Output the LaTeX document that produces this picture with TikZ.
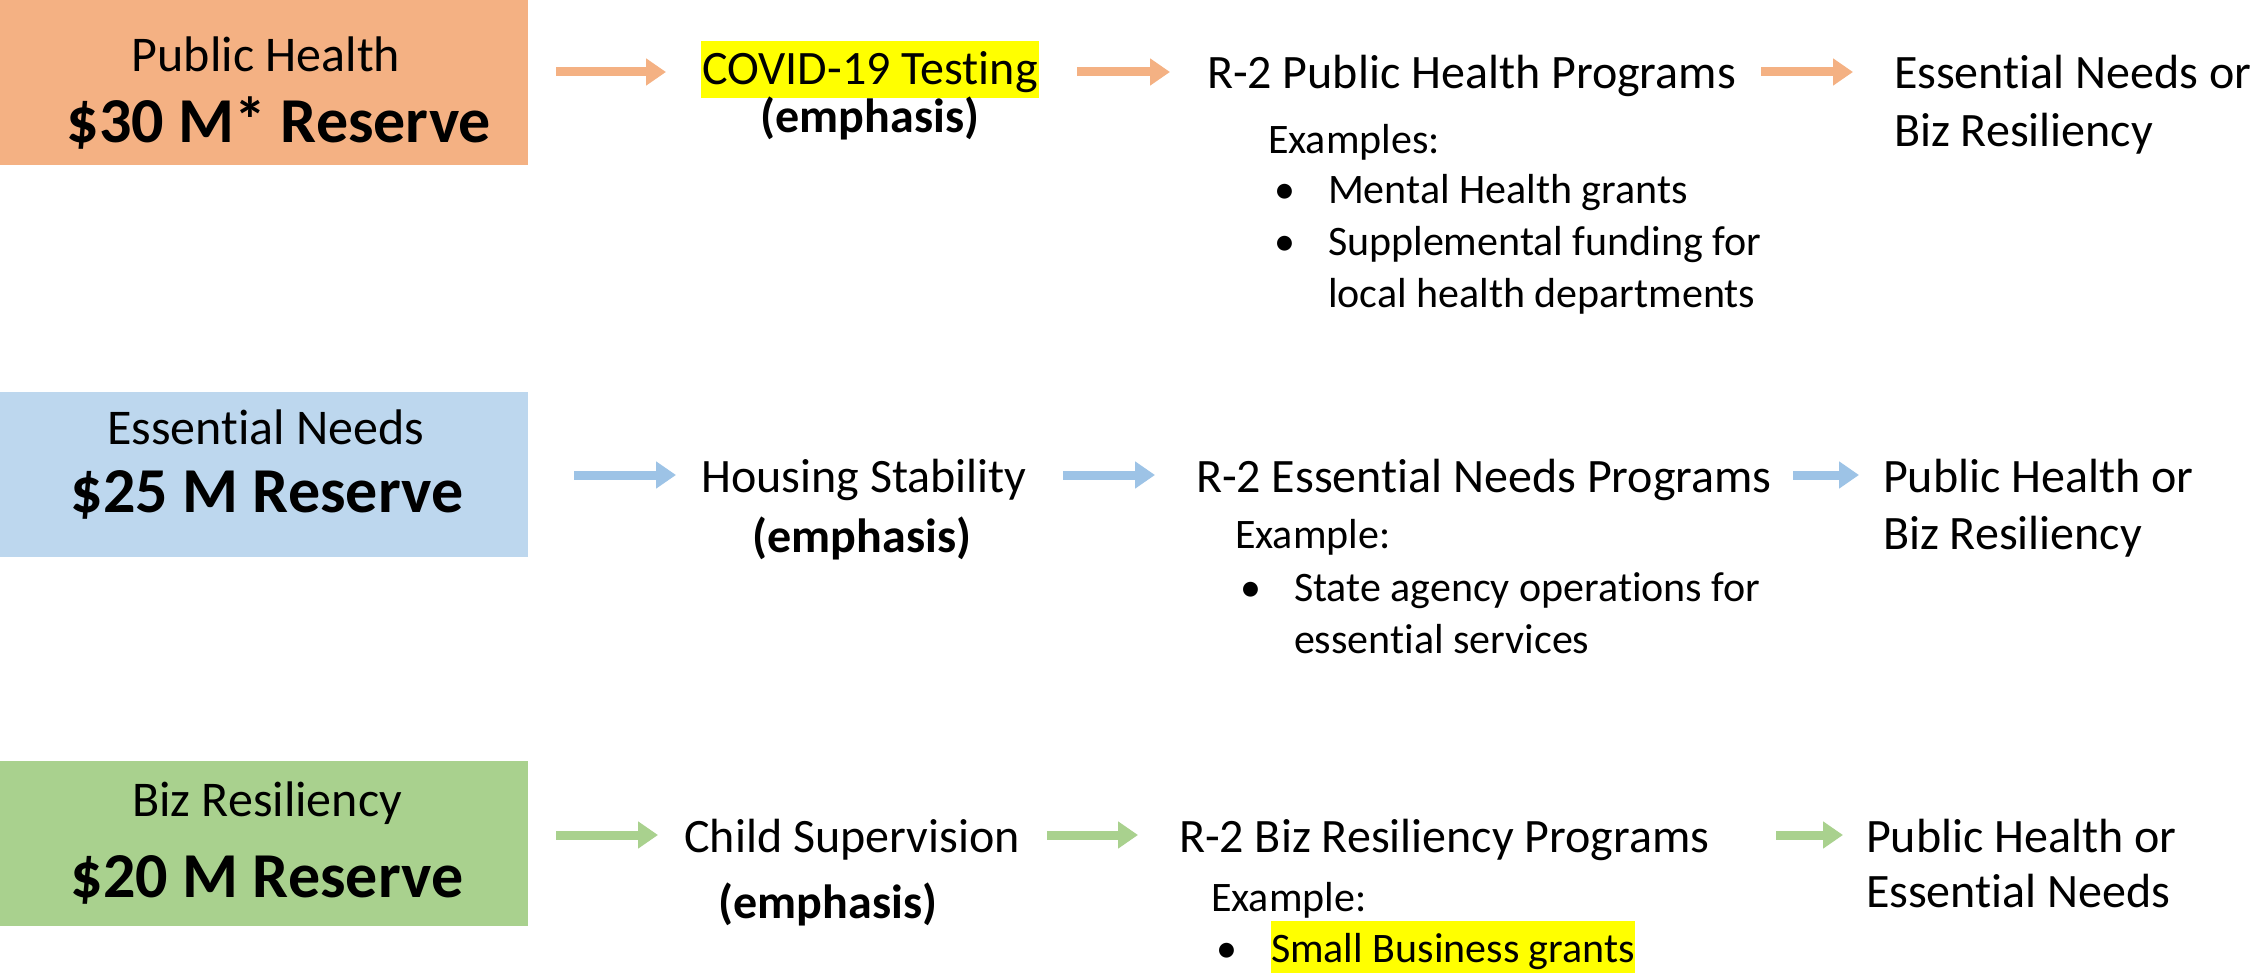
\documentclass[tikz,border=0pt]{standalone}
\usepackage{fontspec}
\setmainfont{Carlito}[Ligatures={NoCommon}]
\usetikzlibrary{arrows.meta}
\definecolor{boxO}{HTML}{F4B183}
\definecolor{boxB}{HTML}{BDD7EE}
\definecolor{boxG}{HTML}{A9D18E}
\definecolor{arrB}{HTML}{9DC3E6}
\definecolor{hl}{HTML}{FFFF00}
\begin{document}
\begin{tikzpicture}[x=1pt,y=-1pt,
  every node/.style={inner sep=0pt, outer sep=0pt},
  panel/.style={anchor=north west, minimum width=528pt, minimum height=165pt},
  ttl/.style={anchor=base, font=\fontsize{50}{60}\selectfont},
  amt/.style={anchor=base, font=\fontsize{64}{76}\selectfont\bfseries},
  main/.style={anchor=base west, font=\fontsize{48}{58}\selectfont},
  mainc/.style={anchor=base, font=\fontsize{48}{58}\selectfont},
  emph/.style={anchor=base, font=\fontsize{48}{58}\selectfont\bfseries},
  sub/.style={anchor=base west, font=\fontsize{42}{51}\selectfont},
  hlbox/.style={fill=hl},
  flow/.style={line width=9pt, -{Triangle[width=26pt,length=20pt]}},
]
\useasboundingbox (0,0) rectangle (2255,973);

% ---------- Row 1: Public Health ----------
\node[panel, fill=boxO] (ph) at (0,0) {};
\node[ttl] (phT) at (266,72) {Public Health};
\node[amt] (phA) at (279,143) {\$30 M* Reserve};
\node[mainc, hlbox, text height=44pt, text depth=13pt, inner xsep=1pt] (covid) at (870,85) {COVID-19 Testing};
\node[emph] (e1) at (870,133) {(emphasis)};
\node[main] (r2ph) at (1207,89) {R-2 Public Health Programs};
\node[main] (o1a) at (1894,89) {Essential Needs or};
\node[main] (o1b) at (1894,147) {Biz Resiliency};
\node[sub] (ex1) at (1268,154) {Examples:};
\node[sub] (b1a) at (1274,204) {•};
\node[sub] (t1a) at (1328,204) {Mental Health grants};
\node[sub] (b1b) at (1274,256) {•};
\node[sub] (t1b) at (1328,256) {Supplemental funding for};
\node[sub] (t1c) at (1328,308) {local health departments};

\coordinate (a1s) at (556,72);  \coordinate (a1e) at (666,72);
\coordinate (a2s) at (1077,72); \coordinate (a2e) at (1170,72);
\coordinate (a3s) at (1761,72); \coordinate (a3e) at (1853,72);
\draw[flow, boxO] (a1s) -- (a1e);
\draw[flow, boxO] (a2s) -- (a2e);
\draw[flow, boxO] (a3s) -- (a3e);

% ---------- Row 2: Essential Needs ----------
\node[panel, fill=boxB] (en) at (0,392) {};
\node[ttl] (enT) at (266,445) {Essential Needs};
\node[amt] (enA) at (267,512) {\$25 M Reserve};
\node[mainc] (hs) at (864,493) {Housing Stability};
\node[emph] (e2) at (862,552) {(emphasis)};
\node[main] (r2en) at (1196,493) {R-2 Essential Needs Programs};
\node[main] (o2a) at (1883,493) {Public Health or};
\node[main] (o2b) at (1883,549) {Biz Resiliency};
\node[sub] (ex2) at (1235,548) {Example:};
\node[sub] (b2a) at (1240,601) {•};
\node[sub] (t2a) at (1294,601) {State agency operations for};
\node[sub] (t2b) at (1294,653) {essential services};

\coordinate (b1s) at (574,475);  \coordinate (b1e) at (676,475);
\coordinate (b2s) at (1063,475); \coordinate (b2e) at (1155,475);
\coordinate (b3s) at (1793,475); \coordinate (b3e) at (1859,475);
\draw[flow, arrB] (b1s) -- (b1e);
\draw[flow, arrB] (b2s) -- (b2e);
\draw[flow, arrB] (b3s) -- (b3e);

% ---------- Row 3: Biz Resiliency ----------
\node[panel, fill=boxG] (br) at (0,761) {};
\node[ttl] (brT) at (267,816) {Biz Resiliency};
\node[amt] (brA) at (267,897) {\$20 M Reserve};
\node[mainc] (cs) at (852,852) {Child Supervision};
\node[emph] (e3) at (828,918) {(emphasis)};
\node[main] (r2br) at (1179,852) {R-2 Biz Resiliency Programs};
\node[main] (o3a) at (1866,852) {Public Health or};
\node[main] (o3b) at (1866,907) {Essential Needs};
\node[sub] (ex3) at (1211,911) {Example:};
\node[sub] (b3a) at (1216,962) {•};
\node[sub, hlbox, text height=41pt, text depth=11pt] (sb) at (1271,962) {Small Business grants};

\coordinate (c1s) at (556,835);  \coordinate (c1e) at (658,835);
\coordinate (c2s) at (1047,835); \coordinate (c2e) at (1138,835);
\coordinate (c3s) at (1776,835); \coordinate (c3e) at (1843,835);
\draw[flow, boxG] (c1s) -- (c1e);
\draw[flow, boxG] (c2s) -- (c2e);
\draw[flow, boxG] (c3s) -- (c3e);
\end{tikzpicture}
\end{document}
